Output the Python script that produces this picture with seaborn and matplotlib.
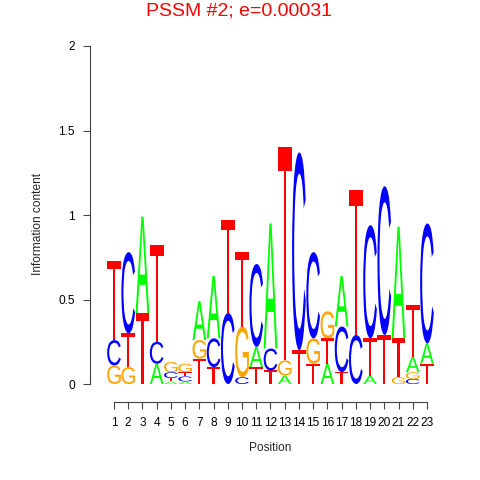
import seaborn as sns
import matplotlib.pyplot as plt
from matplotlib.textpath import TextPath
from matplotlib.patches import PathPatch
from matplotlib.font_manager import FontProperties
from matplotlib.transforms import Affine2D

##### DATA
# information content of each letter per position (bits)
positions = list(range(1, 24))
A = [0, 0, .57, .12, .015, .015, .23, .37, 0, 0, .12, .74, .05, 0, 0, .12, .30, 0, .05, 0, .66, .09, .12]
C = [.15, .48, 0, .13, .035, .03, 0, .17, .42, .04, .49, .13, 0, 1.17, .51, 0, .27, .29, .67, .88, 0, .03, .71]
G = [.11, .10, 0, 0, .06, .05, .11, 0, 0, .30, 0, 0, .09, 0, .15, .16, 0, 0, 0, 0, .04, .04, 0]
T = [.47, .20, .42, .57, .02, .025, .15, .10, .55, .44, .10, .08, 1.26, .20, .12, .15, .07, .86, .22, .29, .23, .31, .12]
# stacking order, bottom to top
order = ["GCT", "GTC", "TA", "ACT", "ATCG", "ACTG", "TGA", "TCA", "CT", "CGT", "TAC", "TCA",
         "AGT", "TC", "TGC", "ATG", "TCA", "CT", "ATC", "TC", "GTA", "CGAT", "TAC"]
y_ticks = [0, 0.5, 1, 1.5, 2]
y_tick_labels = ["0", "0.5", "1", "1.5", "2"]

heights = {"A": A, "C": C, "G": G, "T": T}
colors = {"A": "#00FF00", "C": "#0000FF", "G": "#FFA500", "T": "#FF0000"}

sns.set_theme(style="ticks")
plt.rcParams['font.family'] = ['Liberation Sans', 'DejaVu Sans']
font = FontProperties(family='Liberation Sans')


# draw one letter stretched to fill a box
def draw_letter(ax, letter, x, y0, h, width=0.96):
    path = TextPath((0, 0), letter, size=1, prop=font)
    ext = path.get_extents()
    tr = (Affine2D()
          .translate(-ext.x0, -ext.y0)
          .scale(width / ext.width, h / ext.height)
          .translate(x - width / 2, y0))
    ax.add_patch(PathPatch(tr.transform_path(path), fc=colors[letter], ec='none', lw=0))


fig = plt.figure(figsize=(4.8, 4.8), dpi=100)
ax = fig.add_axes([90 / 480, 78 / 480, 360 / 480, 356 / 480])

for i, pos in enumerate(positions):
    base = 0
    for letter in order[i]:
        h = heights[letter][i]
        if h > 0:
            draw_letter(ax, letter, pos, base, h)
            base += h

ax.set_xlim(-0.687, 24.62)
ax.set_ylim(-0.1065, 2.0)
ax.set_xticks(positions)
ax.set_xticklabels([str(p) for p in positions], fontsize=8.6)
ax.set_yticks(y_ticks)
ax.set_yticklabels(y_tick_labels, fontsize=8.6)
ax.tick_params(axis='both', length=5, width=0.8, color='#444444', pad=6, labelcolor='black')
sns.despine(ax=ax)
ax.spines['left'].set_bounds(0, 2)
ax.spines['bottom'].set_bounds(1, 23)
for s in ['left', 'bottom']:
    ax.spines[s].set_linewidth(0.8)
    ax.spines[s].set_color('#444444')

ax.set_xlabel('Position', fontsize=8.6, labelpad=9)
ax.set_ylabel('Information content', fontsize=8.6, labelpad=10)
fig.text(239 / 480, 1 - 11 / 480, 'PSSM #2; e=0.00031', color='red', fontsize=14,
         ha='center', va='center')

fig.savefig('out.png', dpi=100)
